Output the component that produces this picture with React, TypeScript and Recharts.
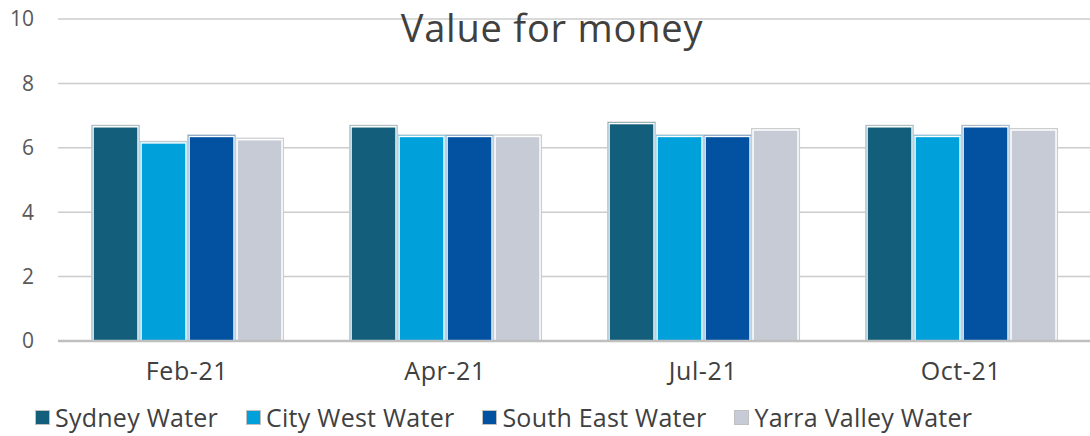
import React from "react";
import { BarChart, Bar, XAxis, YAxis, CartesianGrid } from "recharts";

const categories = ["Feb-21", "Apr-21", "Jul-21", "Oct-21"];
const sydneyWater = [6.7, 6.7, 6.8, 6.7];
const cityWestWater = [6.2, 6.4, 6.4, 6.4];
const southEastWater = [6.4, 6.4, 6.4, 6.7];
const yarraValleyWater = [6.3, 6.4, 6.6, 6.6];
const yTicks = [0, 2, 4, 6, 8, 10];

const seriesNames = ["Sydney Water", "City West Water", "South East Water", "Yarra Valley Water"];
const seriesKeys = ["sydney", "cityWest", "southEast", "yarra"];
const seriesColors = ["#135e7b", "#00a0db", "#0352a2", "#c6cbd5"];

const data = categories.map((c, i) => ({
  name: c,
  sydney: sydneyWater[i],
  cityWest: cityWestWater[i],
  southEast: southEastWater[i],
  yarra: yarraValleyWater[i],
}));

const FONT = "'Open Sans', sans-serif";

const BarShape = (props: any) => {
  const { x, y, width, height, fill } = props;
  if (!height || height <= 0) return null;
  return (
    <g>
      <rect x={x} y={y} width={width} height={height} fill={fill} stroke="#cdcdcd" strokeWidth={1} />
      <rect x={x + 1.5} y={y + 1.5} width={width - 3} height={height - 1.5} fill={fill} stroke="#ffffff" strokeWidth={1.5} />
    </g>
  );
};

const LegendBox = () => (
  <div style={{ position: "absolute", left: 35, top: 402, display: "flex", flexDirection: "row", gap: 28, fontFamily: FONT, fontSize: 25, letterSpacing: 0.25, color: "#404040", alignItems: "center", lineHeight: "30px", whiteSpace: "nowrap" }}>
    {seriesNames.map((n, i) => (
      <div key={n} style={{ display: "flex", alignItems: "center" }}>
        <span style={{ display: "inline-block", width: 13, height: 13, background: seriesColors[i], border: "1px solid #c0c0c0", marginRight: 5 }} />
        <span>{n}</span>
      </div>
    ))}
  </div>
);

export default function App() {
  return (
    <div style={{ position: "absolute", left: 0, top: 0, width: 1090, height: 436, background: "#fff" }}>
      <BarChart
        width={1090}
        height={436}
        data={data}
        margin={{ top: 19, right: 0, left: 0, bottom: 50 }}
        barCategoryGap="13%"
        barGap={0}
      >
        <CartesianGrid vertical={false} stroke="#cccccc" strokeWidth={1.5} />
        <XAxis
          dataKey="name"
          height={45}
          tickLine={false}
          tickSize={0}
          tickMargin={21}
          axisLine={{ stroke: "#bfbfbf", strokeWidth: 2.5 }}
          tick={{ fill: "#404040", fontSize: 25, fontFamily: FONT, letterSpacing: 0.6 }}
        />
        <YAxis
          width={58}
          domain={[0, 10]}
          ticks={yTicks}
          axisLine={false}
          tickLine={false}
          tickSize={0}
          tickMargin={24}
          tick={{ fill: "#595959", fontSize: 21, fontFamily: FONT }}
        />
        {seriesKeys.map((k, i) => (
          <Bar key={k} dataKey={k} name={seriesNames[i]} fill={seriesColors[i]} shape={<BarShape />} isAnimationActive={false} />
        ))}
        <text x={552} y={42} textAnchor="middle" fontFamily={FONT} fontSize={38} letterSpacing={0.8} fill="#404040">
          Value for money
        </text>
      </BarChart>
      <LegendBox />
    </div>
  );
}
